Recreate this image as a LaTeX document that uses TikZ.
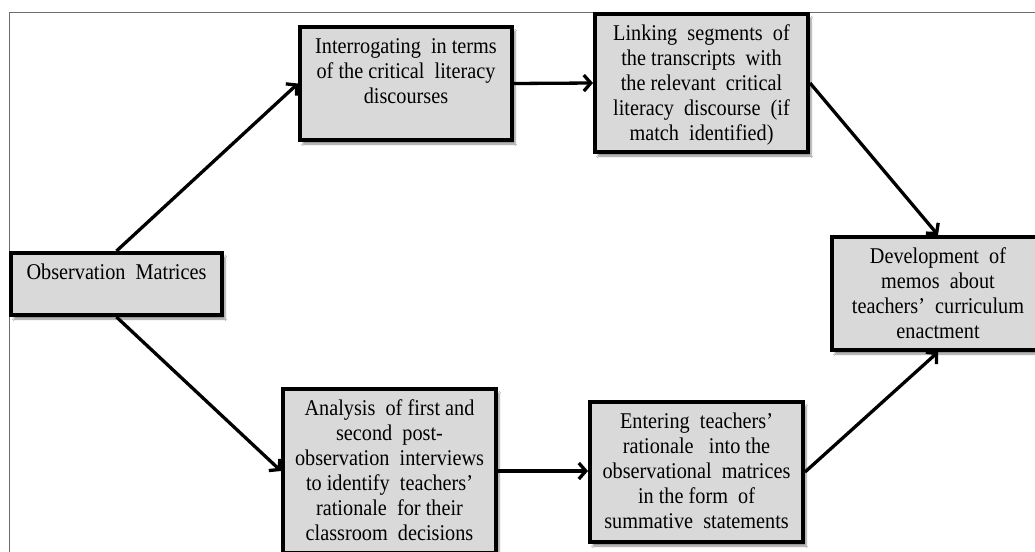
\documentclass[tikz,border=0pt]{standalone}
\usepackage{fontspec}
\setmainfont{Liberation Serif}[FakeStretch=0.9]
\usetikzlibrary{arrows.meta,shadows.blur}
\newcommand{\bxtext}[3]{\parbox[c][#1][t]{#2}{\centering\fontsize{22.5}{25}\selectfont\rule{0pt}{26.5pt}#3}}
\definecolor{boxgray}{HTML}{D9D9D9}
\tikzset{
  flowbox/.style={draw=black, line width=4pt, fill=boxgray, inner sep=0pt,
    blur shadow={shadow blur steps=6, shadow xshift=3pt, shadow yshift=-4pt, shadow opacity=45, shadow blur extra rounding=0pt}},
  flowarrow/.style={line width=3.3pt, -{Straight Barb[length=7pt,width=16pt,line width=3.3pt]}},
  frameline/.style={draw=gray!85!black, line width=1pt}
}
\begin{document}
\begin{tikzpicture}[x=1pt,y=-1pt]
\useasboundingbox (0,0) rectangle (1035,551);
\fill[white] (0,0) rectangle (1035,551);
\coordinate (fTL) at (9,13);
\coordinate (fBL) at (9,560);
\coordinate (fTR) at (1040,13);
\draw[frameline] (fBL) -- (fTL) -- (fTR);

\node[flowbox] (obs) at (116.5,284) {\bxtext{62pt}{211pt}{Observation\ \ Matrices}};
\node[flowbox] (int) at (406,83.5) {\bxtext{113pt}{212pt}{Interrogating\ \ in terms\\of the critical\ \ literacy\\discourses}};
\node[flowbox] (lnk) at (701.5,83) {\bxtext{138pt}{213pt}{Linking\ \ segments\ \ of\\the transcripts\ \ with\\the relevant\ \ critical\\literacy\ \ discourse\ \ (if\\match\ \ identified)}};
\node[flowbox] (dev) at (938,293.5) {\bxtext{113pt}{212pt}{Development\ \ of\\memos\ \ about\\teachers'\ \ curriculum\\enactment}};
\node[flowbox] (ana) at (389.5,471) {\bxtext{164pt}{213pt}{Analysis\ \ of first and\\second\ \ post-\\observation\ \ interviews\\to identify\ \ teachers'\\rationale\ \ for their\\classroom\ \ decisions}};
\node[flowbox] (ent) at (696.5,472) {\bxtext{140pt}{213pt}{Entering\ \ teachers'\\rationale\ \ \ into the\\observational\ \ matrices\\in the form\ \ of\\summative\ \ statements}};

\draw[flowarrow] (obs.north) -- (int.west);
\draw[flowarrow] (int.east) -- (lnk.west);
\draw[flowarrow] (lnk.east) -- (dev.north);
\draw[flowarrow] (obs.south) -- (ana.west);
\draw[flowarrow] (ana.east) -- (ana.east -| ent.west);
\draw[flowarrow] (ent.east) -- (dev.south);
\end{tikzpicture}
\end{document}
